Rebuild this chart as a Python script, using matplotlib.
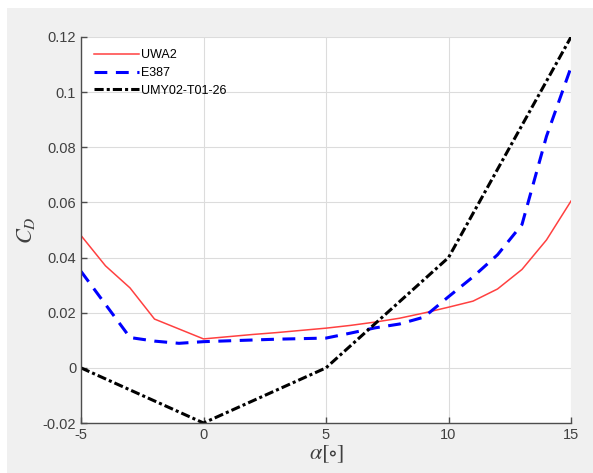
import numpy as np
import matplotlib
matplotlib.use("Agg")
import matplotlib.pyplot as plt
from matplotlib.patches import Rectangle

# ---------- Data ----------
alpha = list(range(-5, 16))
cd_uwa2 = [0.048, 0.037, 0.029, 0.0177, 0.0141, 0.0105, 0.0113, 0.0121, 0.0128, 0.0136,
           0.0144, 0.0154, 0.0166, 0.018, 0.0199, 0.022, 0.0242, 0.0286, 0.0357, 0.0464, 0.0605]
cd_e387 = [0.035, 0.023, 0.011, 0.0097, 0.0089, 0.0095, 0.0098, 0.0101, 0.0104, 0.0106,
           0.0108, 0.0126, 0.0145, 0.0159, 0.0184, 0.0258, 0.033, 0.041, 0.052, 0.084, 0.109]
alpha_umy = [-5, 0, 5, 10, 15]
cd_umy = [0.0, -0.02, 0.0, 0.04, 0.12]
series_names = ["UWA2", "E387", "UMY02-T01-26"]

plt.rcParams['font.family'] = ['Liberation Sans', 'DejaVu Sans']
plt.rcParams['mathtext.fontset'] = 'stix'
plt.rcParams['axes.unicode_minus'] = False

fig = plt.figure(figsize=(5.93, 4.73), dpi=100, facecolor='white')
# gray MATLAB-like background with thin white margin on top/left
fig.patches.append(Rectangle((7/593, 0), 1, 1 - 8/473, transform=fig.transFigure,
                             facecolor='#f0f0f0', edgecolor='none', zorder=-1))

ax = fig.add_axes([81/593, 50/473, 490/593, 386/473])
ax.set_facecolor('white')

ax.plot(alpha, cd_uwa2, color='#ff4040', lw=1.1, label=series_names[0])
ax.plot(alpha, cd_e387, color='#0000ff', lw=2.2, ls=(0, (4.2, 2.8)), label=series_names[1])
ax.plot(alpha_umy, cd_umy, color='black', lw=2.2, ls=(0, (3, 1, 1, 1)), label=series_names[2])

ax.set_xlim(-5, 15)
ax.set_ylim(-0.02, 0.12)
ax.set_xticks([-5, 0, 5, 10, 15])
ax.set_yticks([-0.02, 0, 0.02, 0.04, 0.06, 0.08, 0.1, 0.12])
ax.set_yticklabels(['-0.02', '0', '0.02', '0.04', '0.06', '0.08', '0.1', '0.12'])
ax.grid(True, color='#dcdcdc', lw=0.8)
ax.set_axisbelow(True)

for s in ['top', 'right']:
    ax.spines[s].set_visible(False)
for s in ['left', 'bottom']:
    ax.spines[s].set_color('#4d4d4d')
    ax.spines[s].set_linewidth(1.0)
ax.tick_params(direction='in', length=4, width=1.0, color='#4d4d4d',
               labelcolor='#404040', labelsize=10.5)

ax.set_xlabel(r'$\alpha[\circ]$', fontsize=16, color='#404040', labelpad=1)
ax.set_ylabel(r'$C_D$', fontsize=16, color='#404040', labelpad=4)

ax.legend(loc='upper left', frameon=False, fontsize=9, handlelength=3.6,
          handletextpad=0.2, labelspacing=0.45, borderaxespad=0.6)

plt.savefig('out.png', dpi=100, facecolor=fig.get_facecolor())
